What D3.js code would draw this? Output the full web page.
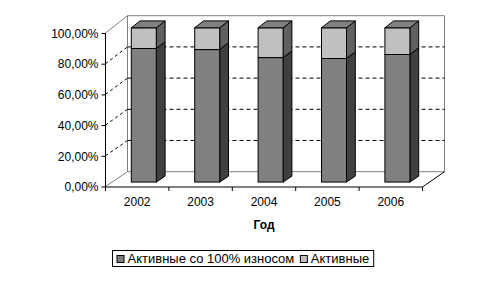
<!DOCTYPE html>
<html>
<head>
<meta charset="utf-8">
<script src="https://cdn.jsdelivr.net/npm/d3@7"></script>
<style>
  body { margin: 0; background: #fff; }
  text { font-family: "Liberation Sans", Arial, sans-serif; font-size: 12px; fill: #000; }
</style>
</head>
<body>
<div id="chart"></div>
<script>
"use strict";

// data
var years = ["2002", "2003", "2004", "2005", "2006"];
var wornOut = [0.866, 0.859, 0.807, 0.801, 0.827];   // Активные со 100% износом
var active = [0.134, 0.141, 0.193, 0.199, 0.173];    // Активные
var seriesNames = ["Активные со 100% износом", "Активные"];
var yTicks = [0, 0.2, 0.4, 0.6, 0.8, 1];

var width = 491, height = 284;
var depthX = 22;

var svg = d3.select("#chart").append("svg")
    .attr("width", width)
    .attr("height", height);

var ru = d3.formatLocale({ decimal: ",", thousands: " ", grouping: [3], currency: ["", ""] });
var pct = ru.format(".2%");

var x = d3.scaleBand().domain(years).range([105.5, 422.5]);
var yFront = d3.scaleLinear().domain([0, 1]).range([186.5, 33]);
var yBack = d3.scaleLinear().domain([0, 1]).range([171.7, 15.7]);

// z: 0 = front plane, 1 = back wall
function px(xv, z) { return xv + z * depthX; }
function py(v, z) { return yFront(v) + (yBack(v) - yFront(v)) * z; }
function pts(arr) { return arr.map(function(p) { return p.join(","); }).join(" "); }

var x0 = x.range()[0], x1 = x.range()[1];
var g = svg.append("g");

// back wall
g.append("polygon")
    .attr("points", pts([[px(x0, 1), py(0, 1)], [px(x0, 1), py(1, 1)], [px(x1, 1), py(1, 1)], [px(x1, 1), py(0, 1)]]))
    .attr("fill", "#fff").attr("stroke", "#808080");

// grid: back wall dashes + side wall diagonals
yTicks.forEach(function(t) {
    var inner = t > 0 && t < 1;
    if (inner) {
        g.append("line")
            .attr("x1", px(x0, 1)).attr("y1", py(t, 1))
            .attr("x2", px(x1, 1)).attr("y2", py(t, 1))
            .attr("stroke", "#000").attr("stroke-dasharray", "4,3");
    }
    g.append("line")
        .attr("x1", px(x0, 0)).attr("y1", py(t, 0))
        .attr("x2", px(x0, 1)).attr("y2", py(t, 1))
        .attr("stroke", inner ? "#000" : "#808080")
        .attr("stroke-dasharray", inner ? "3,3" : null);
});

// floor right edge
g.append("line")
    .attr("x1", px(x1, 0)).attr("y1", py(0, 0) + 0.5)
    .attr("x2", px(x1, 1)).attr("y2", py(0, 1))
    .attr("stroke", "#000");

// bars
var barW = 25, zf = 0.3, zb = 0.7;
var stacks = years.map(function(yr, i) {
    return [
        { lo: 0, hi: wornOut[i], front: "#808080", side: "#404040", top: "#808080" },
        { lo: wornOut[i], hi: wornOut[i] + active[i], front: "#c0c0c0", side: "#606060", top: "#808080" }
    ];
});

years.forEach(function(yr, i) {
    var l = x(yr) + (x.bandwidth() - barW) / 2, r = l + barW;
    var bg = g.append("g");
    stacks[i].forEach(function(s, k) {
        bg.append("polygon")
            .attr("points", pts([[px(r, zf), py(s.lo, zf)], [px(r, zb), py(s.lo, zb)], [px(r, zb), py(s.hi, zb)], [px(r, zf), py(s.hi, zf)]]))
            .attr("fill", s.side).attr("stroke", "#000");
        bg.append("rect")
            .attr("x", px(l, zf)).attr("y", py(s.hi, zf))
            .attr("width", barW).attr("height", py(s.lo, zf) - py(s.hi, zf))
            .attr("fill", s.front).attr("stroke", "#000");
        if (k === stacks[i].length - 1) {
            bg.append("polygon")
                .attr("points", pts([[px(l, zf), py(s.hi, zf)], [px(l, zb), py(s.hi, zb)], [px(r, zb), py(s.hi, zb)], [px(r, zf), py(s.hi, zf)]]))
                .attr("fill", s.top).attr("stroke", "#000");
        }
    });
});

// axes
var yAxis = d3.axisLeft(yFront).tickValues(yTicks).tickFormat(pct).tickSize(4).tickPadding(3);
var ya = svg.append("g").attr("transform", "translate(" + x0 + ",0)").call(yAxis);
ya.select(".domain").attr("d", "M0," + yFront(1) + "V" + (yFront(0) + 0.5));
ya.selectAll("text").style("font-family", null).style("font-size", null).attr("dy", "0.35em");

var xa = svg.append("g").attr("transform", "translate(0," + (yFront(0) + 0.5) + ")");
xa.append("line").attr("x1", x0).attr("x2", x1).attr("stroke", "#000");
var bounds = years.map(function(yr) { return x(yr); }).concat([x1]);
xa.selectAll(".tk").data(bounds).enter().append("line")
    .attr("x1", function(d) { return d; }).attr("x2", function(d) { return d; })
    .attr("y1", 0).attr("y2", 4).attr("stroke", "#000");
xa.selectAll(".lbl").data(years).enter().append("text")
    .attr("x", function(d) { return x(d) + x.bandwidth() / 2; })
    .attr("y", 19)
    .attr("text-anchor", "middle")
    .text(function(d) { return d; });

svg.append("text")
    .attr("x", 264).attr("y", 229)
    .attr("text-anchor", "middle")
    .style("font-weight", "bold")
    .text("Год");

// legend, laid out from measured text widths and centred on the box
var lg = svg.append("g");
var box = lg.append("rect").attr("y", 250.5).attr("height", 16)
    .attr("fill", "#fff").attr("stroke", "#000");
var legendFill = ["#808080", "#c0c0c0"];
var cx = 0;
var items = seriesNames.map(function(n, i) {
    var it = lg.append("g");
    it.append("rect").attr("x", 0.5).attr("y", 255.5).attr("width", 7).attr("height", 7)
        .attr("fill", legendFill[i]).attr("stroke", "#000");
    var t = it.append("text").attr("x", 11).attr("y", 263).style("font-size", "13px").text(n);
    it.attr("transform", "translate(" + cx + ",0)");
    cx += 11 + t.node().getComputedTextLength() + 6;
    return it;
});
var totalW = cx - 6 + 8;
var left = Math.round(243 - totalW / 2) + 0.5;
box.attr("x", left).attr("width", totalW);
var off = 0;
items.forEach(function(it, i) {
    var w = it.node().getBBox().width;
    it.attr("transform", "translate(" + (left + 4 + off) + ",0)");
    off += w + 6;
});
</script>
</body>
</html>
